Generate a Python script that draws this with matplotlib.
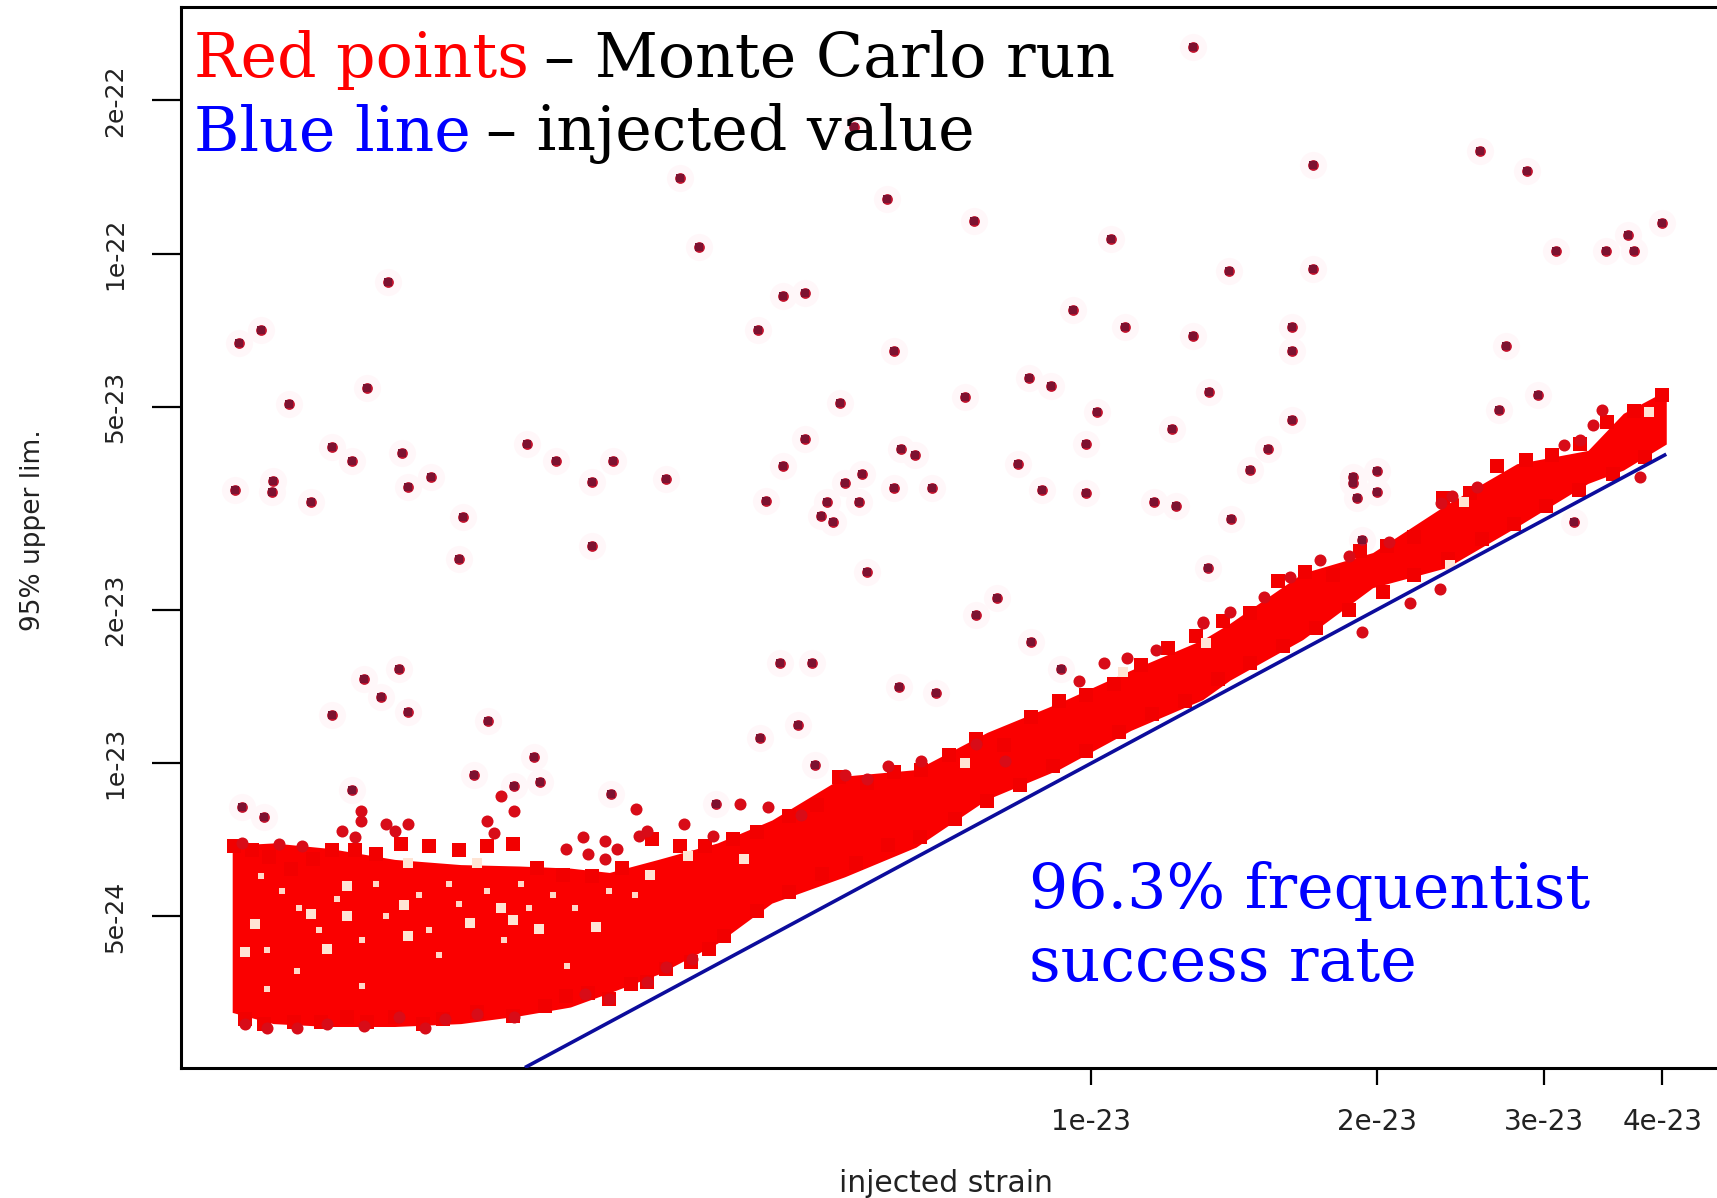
import matplotlib
matplotlib.use("Agg")
import matplotlib.pyplot as plt

UNIT = 1e-23

# Outlying Monte Carlo runs (injected strain, 95% upper limit), units of 1e-23
out_x = [1.281,.561,.368,.608,.752,.385,1.049,1.713,2.57,2.88,4.0,3.68,3.09,3.49,3.74,1.395,1.713,.181,.473,.499,
         .956,.133,.126,.445,1.086,1.281,1.628,1.628,2.74,.619,.859,.906,.172,.736,1.33,.1425,.543,1.013,2.69,2.96,
         1.628,1.215,.158,.1875,.166,.2535,.272,.313,.201,.19,.137,.1365,.125,.15,.297,.356,.217,.215,.297,.453,
         .473,.499,.526,.518,.534,.549,.568,.572,.619,.629,.651,.679,.837,.887,.987,.987,1.164,1.228,1.471,1.536,
         1.403,1.326,1.886,1.886,2.0,2.0,1.906,1.93,3.23,.579,.795,.756,.864,.928,.469,.507,.626,.685,.186,.171,
         .178,.158,.19,.231,.49,.447,.258,.511,.223,.262,.246,.166,.127,.134,.311,.402]
out_y = [25.4,17.7,14.1,12.8,11.6,10.3,10.7,14.9,15.9,14.5,11.5,10.9,10.1,10.1,10.1,9.24,9.33,8.8,8.25,8.37,
         7.77,7.07,6.67,7.07,7.18,6.9,7.18,6.44,6.6,6.44,5.69,5.5,5.45,5.24,5.34,5.06,5.1,4.9,4.94,5.28,
         4.72,4.53,4.17,4.07,3.91,4.23,3.91,3.91,3.65,3.49,3.58,3.41,3.44,3.26,3.56,3.61,3.04,2.52,2.67,3.27,
         3.83,4.32,3.26,3.06,2.97,3.54,3.26,3.7,3.47,4.13,4.03,3.47,3.87,3.44,4.23,3.39,3.26,3.19,3.76,4.13,
         3.01,2.42,3.65,3.54,3.74,3.41,3.32,2.74,2.97,2.37,2.11,1.95,1.73,1.53,1.57,1.57,1.41,1.37,1.53,1.46,
         1.35,1.24,1.26,1.21,1.19,1.12,1.03,.99,.947,.92,.9,.884,.82,.785,.87,.83]

# Envelope of the dense band of runs
band_x = [.124,.137,.157,.184,.216,.249,.282,.310,.349,.403,.460,.549,.653,.776,.923,1.10,1.31,1.40,1.67,1.98,2.37,2.81,3.34,3.64,4.04]
band_upper = [.690,.697,.680,.647,.632,.628,.622,.610,.647,.697,.773,.943,.971,1.149,1.312,1.522,1.747,1.882,2.36,2.59,3.22,3.87,4.11,4.86,5.39]
band_lower = [.324,.308,.304,.304,.308,.319,.332,.354,.385,.443,.531,.598,.684,.849,.971,1.159,1.332,1.455,1.747,2.21,2.42,2.91,3.54,3.76,4.23]

# Runs scattered just beyond the band
fringe_x = [.127,.139,.147,.1695,.1695,.162,.167,.18,.184,.19,.238,.246,.23,.234,.331,.291,.307,.316,.279,.294,
            .307,.333,.34,.372,.399,.426,.456,.494,.549,.579,.61,.661,.756,.81,1.03,.97,1.17,1.09,1.31,
            .128,.135,.145,.156,.171,.186,.198,.208,.225,.246,.31,.34,.356,.379,.292,
            1.93,2.17,2.33,3.79,3.46,3.38,3.28,3.15,2.55,2.4,2.34,2.06,1.74,1.87,1.62,1.52,1.4,1.31]
fringe_y = [.697,.694,.687,.805,.77,.736,.715,.758,.736,.758,.862,.805,.77,.729,.813,.715,.704,.677,.677,.664,
            .647,.718,.736,.758,.718,.83,.82,.79,.947,.93,.985,1.01,1.09,1.01,1.575,1.45,1.67,1.61,1.88,
            .308,.302,.302,.308,.305,.318,.302,.315,.322,.318,.344,.372,.397,.413,.352,
            1.81,2.06,2.2,3.65,4.94,4.6,4.31,4.21,3.49,3.35,3.24,2.72,2.5,2.55,2.32,2.12,1.98,1.89]

# Runs forming the jagged edges of the band
edge_top_x = [.1245,.13,.1355,.143,.151,.158,.167,.176,.187,.2,.215,.23,.245,.26,.277,.297,.32,.344,.368,.391,.419,
              .444,.48,.513,.542,.579,.619,.661,.707,.756,.808,.864,.923,.987,1.055,1.127,1.205,1.288,1.377,1.471,
              1.573,1.681,1.797,1.921,2.05,2.19,2.35,2.51,2.68,2.87,3.06,3.28,3.5,3.74,4.0]
edge_top_y = [.687,.674,.654,.619,.647,.674,.674,.664,.694,.687,.674,.687,.694,.622,.604,.601,.622,.708,.687,.687,.708,
              .732,.789,.829,.938,.915,.961,.971,1.035,1.115,1.087,1.23,1.325,1.358,1.427,1.56,1.68,1.78,1.9,1.97,
              2.28,2.37,2.34,2.61,2.67,2.78,3.31,3.39,3.83,3.93,4.03,4.23,4.67,4.91,5.29]
edge_low_x = [.128,.134,.144,.154,.164,.172,.184,.197,.207,.225,.245,.265,.279,.294,.31,.327,.34,.356,.378,.395,
              .41,.444,.48,.52,.564,.61,.66,.717,.776,.84,.91,.987,1.07,1.158,1.254,1.36,1.47,1.594,1.727,1.87,
              2.03,2.19,2.38,2.58,2.79,3.02,3.27,3.55,3.84]
edge_low_y = [.315,.308,.31,.31,.318,.31,.318,.308,.315,.324,.319,.334,.349,.354,.344,.369,.372,.395,.407,.432,
              .458,.513,.558,.607,.638,.69,.715,.777,.841,.906,.985,1.056,1.149,1.249,1.325,1.462,1.575,1.696,1.845,2.0,
              2.17,2.34,2.52,2.75,2.95,3.19,3.44,3.7,3.99]

# Gaps between runs inside the band
gap_x = [.188,.19,.156,.225,.238,.245,.221,.19,.164,.15,.342,.3,.131,.128,.261,.375,.164,.43,.736,1.08,1.32,2.39,3.87,2.47]
gap_y = [.526,.638,.432,.638,.52,.493,.486,.458,.5,.506,.604,.476,.484,.425,.472,.657,.575,.647,1.0,1.51,1.72,2.45,4.88,3.26]
speck_x = [.133,.14,.146,.135,.145,.153,.16,.17,.176,.18,.195,.2,.205,.21,.215,.23,.24,.25,.255,.27,.285,.31,.33,.135,.17,.28]
speck_y = [.60,.56,.52,.43,.39,.47,.54,.45,.58,.50,.55,.47,.42,.58,.53,.56,.45,.58,.52,.55,.52,.56,.55,.36,.365,.40]

injected = [.2525, 4.04]
x_limits = [.1095, 4.57]
y_limits = [.252, 30.5]
x_ticks = [1, 2, 3, 4]
x_tick_labels = ["1e-23", "2e-23", "3e-23", "4e-23"]
y_ticks = [.5, 1, 2, 5, 10, 20]
y_tick_labels = ["5e-24", "1e-23", "2e-23", "5e-23", "1e-22", "2e-22"]

def scaled(values):
    return [v * UNIT for v in values]

W, H = 1717, 1198
fig = plt.figure(figsize=(W / 100, H / 100), dpi=100, facecolor="white")
ax = fig.add_axes([181 / W, (H - 1068) / H, (W - 181) / W, (1068 - 7) / H])
ax.set_xscale("log")
ax.set_yscale("log")

ax.scatter(scaled(out_x), scaled(out_y), s=380, color="#fff7f9", linewidths=0, zorder=1)
ax.fill_between(scaled(band_x), scaled(band_lower), scaled(band_upper), color="#fa0000", linewidth=0, zorder=2)
ax.scatter(scaled(edge_top_x), scaled(edge_top_y), s=110, marker="s", color="#f20000", linewidths=0, zorder=2)
ax.scatter(scaled(edge_low_x), scaled(edge_low_y), s=110, marker="s", color="#f20000", linewidths=0, zorder=2)
ax.scatter(scaled(fringe_x), scaled(fringe_y), s=75, color="#d80c18", linewidths=0, zorder=2)
ax.scatter(scaled(gap_x), scaled(gap_y), s=45, marker="s", color="#ffe4d4", linewidths=0, zorder=3)
ax.scatter(scaled(speck_x), scaled(speck_y), s=16, marker="s", color="#ffd8c8", linewidths=0, zorder=3)
ax.scatter(scaled(out_x), scaled(out_y), s=60, color="#c2122c", linewidths=0, zorder=4)
ax.scatter(scaled(out_x), scaled(out_y), s=26, marker="s", color="#7d1230", linewidths=0, zorder=5)
ax.plot(scaled(injected), scaled(injected), color="#0c0c9c", lw=2.6, zorder=6, solid_capstyle="butt")

ax.set_xlim(*scaled(x_limits))
ax.set_ylim(*scaled(y_limits))
ax.minorticks_off()
ax.set_xticks(scaled(x_ticks), x_tick_labels, fontsize=20, family="DejaVu Sans", color="#222222")
ax.set_yticks(scaled(y_ticks), y_tick_labels, fontsize=18, family="DejaVu Sans", color="#222222",
              rotation=90, va="center")
ax.tick_params(axis="x", which="major", length=12.5, width=1.6, pad=16)
ax.tick_params(axis="y", which="major", length=21, width=1.6, pad=18)
ax.tick_params(which="minor", length=0)
ax.spines["right"].set_visible(False)
for side in ("left", "top", "bottom"):
    ax.spines[side].set_linewidth(2.2)

fig.text(946 / W, 1 - 1183 / H, "injected strain", fontsize=21.5, color="#222222",
         ha="center", va="center", family="DejaVu Sans")
fig.text(33 / W, 1 - 530 / H, "95% upper lim.", fontsize=19, color="#222222", rotation=90,
         ha="center", va="center", family="DejaVu Sans")

def line(x_px, y_px, parts, size):
    prev = None
    for text, colour in parts:
        if prev is None:
            prev = ax.text(x_px / W, 1 - y_px / H, text, color=colour, fontsize=size, family="DejaVu Serif",
                           transform=fig.transFigure, va="baseline", ha="left", zorder=8)
        else:
            prev = ax.annotate(text, xy=(1, 0), xycoords=prev, xytext=(11, 0), textcoords="offset points",
                               color=colour, fontsize=size, family="DejaVu Serif", va="bottom", ha="left",
                               annotation_clip=False, zorder=8)

SIZE = 44.5
line(194, 77, [("Red points", "#ff0000"), ("– Monte Carlo run", "black")], SIZE)
line(194, 151, [("Blue line", "#0000ff"), ("– injected value", "black")], SIZE)
line(1029, 908, [("96.3% frequentist", "#0000ff")], SIZE)
line(1029, 981, [("success rate", "#0000ff")], SIZE)

fig.savefig("out.png", dpi=100, facecolor="white")
